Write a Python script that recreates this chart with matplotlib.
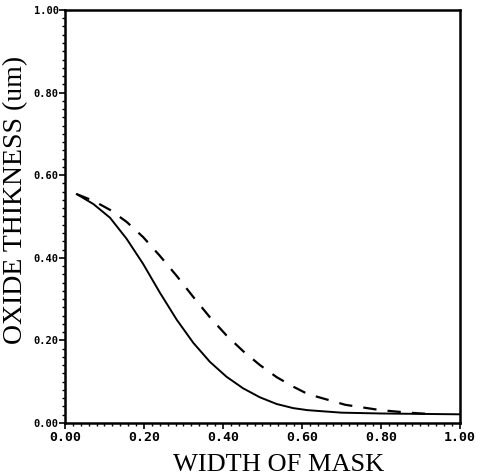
import numpy as np
import matplotlib
matplotlib.use('Agg')
import matplotlib.pyplot as plt
from matplotlib.ticker import MultipleLocator

# values
x_solid = [0.03, 0.072, 0.114, 0.156, 0.198, 0.240, 0.283, 0.325, 0.367, 0.409,
           0.451, 0.494, 0.536, 0.578, 0.615, 0.70, 0.80, 0.90, 1.00]
y_solid = [0.554, 0.530, 0.497, 0.446, 0.385, 0.316, 0.250, 0.194, 0.148, 0.112,
           0.084, 0.062, 0.046, 0.036, 0.031, 0.025, 0.023, 0.022, 0.021]

x_dash = [0.03, 0.072, 0.114, 0.156, 0.198, 0.240, 0.283, 0.325, 0.367, 0.409,
          0.451, 0.494, 0.536, 0.578, 0.615, 0.71, 0.80, 0.87, 0.92]
y_dash = [0.554, 0.538, 0.516, 0.487, 0.450, 0.405, 0.356, 0.305, 0.256, 0.212,
          0.174, 0.140, 0.111, 0.088, 0.070, 0.044, 0.031, 0.025, 0.022]

x_ticks = [0.0, 0.2, 0.4, 0.6, 0.8, 1.0]
y_ticks = [0.0, 0.2, 0.4, 0.6, 0.8, 1.0]
tick_labels = ['0.00', '0.20', '0.40', '0.60', '0.80', '1.00']

fig = plt.figure(figsize=(4.79, 4.75), dpi=100)
ax = fig.add_axes([0.1357, 0.1095, 0.960 - 0.1357, 0.979 - 0.1095])

ax.plot(x_solid, y_solid, color='black', lw=1.4)
ax.plot(x_dash, y_dash, color='black', lw=1.6, dashes=(6, 5))

ax.set_xlim(0, 1.0)
ax.set_ylim(0, 1.0)
ax.set_xticks(x_ticks)
ax.set_yticks(y_ticks)
ax.set_xticklabels(tick_labels)
ax.set_yticklabels(tick_labels)
ax.xaxis.set_minor_locator(MultipleLocator(0.02))
ax.yaxis.set_minor_locator(MultipleLocator(0.02))
ax.tick_params(which='major', direction='out', length=4, width=1.2)
ax.tick_params(which='minor', direction='out', length=2.5, width=1.0)
ax.tick_params(axis='x', which='major', pad=2, labelsize=9.5)
ax.tick_params(axis='y', which='major', pad=0.5, labelsize=7.5)
for lab in ax.get_xticklabels() + ax.get_yticklabels():
    lab.set_family('DejaVu Sans Mono')
    lab.set_fontweight('bold')

for s in ax.spines.values():
    s.set_linewidth(1.8)

ax.set_xlabel('WIDTH OF MASK', family='Liberation Serif', fontsize=19)
ax.set_ylabel('OXIDE THIKNESS (um)', family='Liberation Serif', fontsize=20)
ax.yaxis.set_label_coords(-0.094, 0.54)
ax.xaxis.set_label_coords(0.54, -0.075)

fig.savefig('out.png', dpi=100)
plt.close()
